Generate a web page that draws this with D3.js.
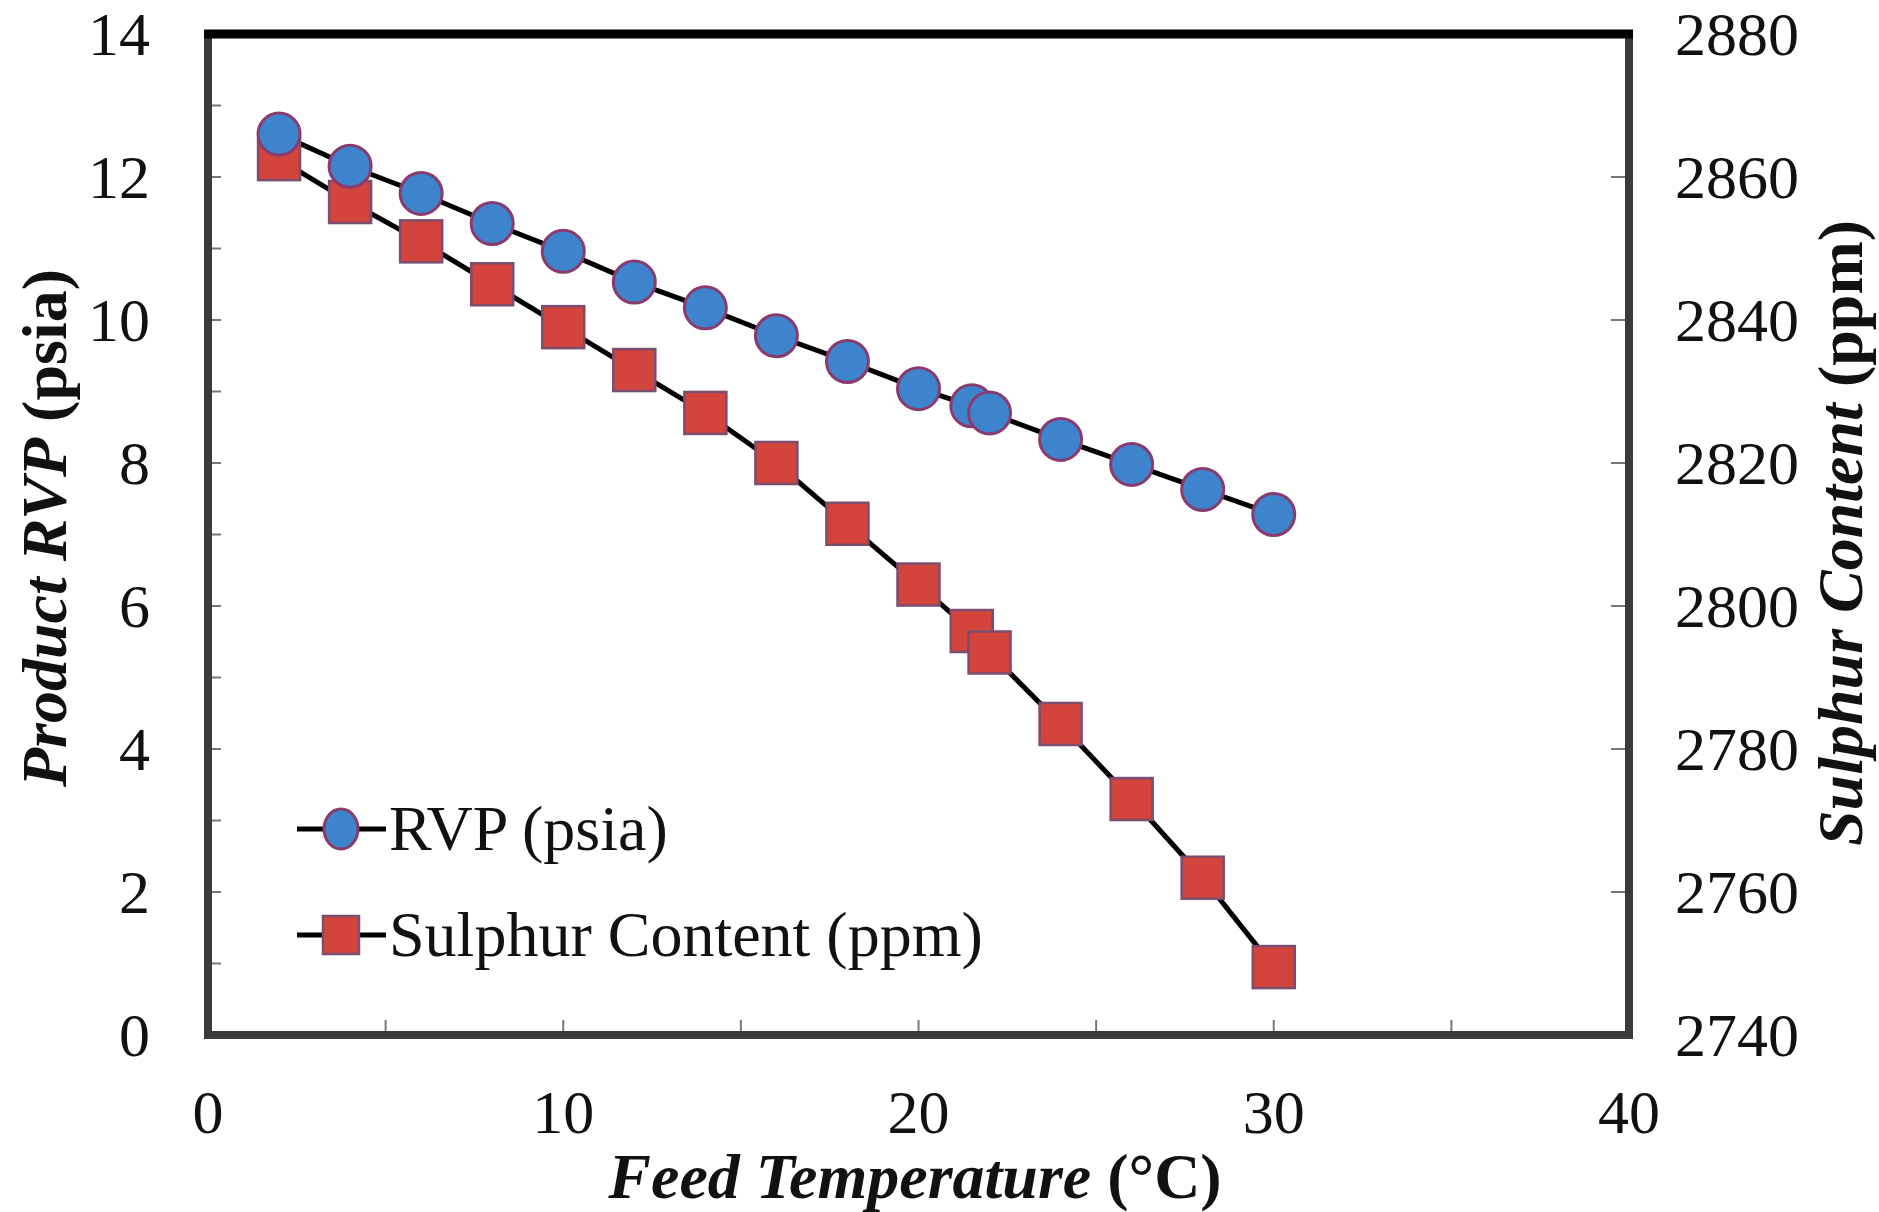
<!DOCTYPE html>
<html>
<head>
<meta charset="utf-8">
<script src="https://cdn.jsdelivr.net/npm/d3@7"></script>
<style>
  html, body { margin: 0; padding: 0; background: #fff; }
  svg { display: block; }
  text { font-family: "Liberation Serif", "Times New Roman", serif; fill: #111; }
</style>
</head>
<body>
<svg id="chart" width="1879" height="1212"></svg>
<script>
// ---- data ----
const temperatures = [2, 4, 6, 8, 10, 12, 14, 16, 18, 20, 21.5, 22, 24, 26, 28, 30];
const rvpValues = [12.6, 12.15, 11.77, 11.35, 10.96, 10.53, 10.17, 9.78, 9.42, 9.04, 8.8, 8.7, 8.33, 7.98, 7.63, 7.28];
const sulphurValues = [2862.5, 2856.5, 2851, 2845, 2839, 2833, 2827, 2820, 2811.5, 2803, 2796.5, 2793.5, 2783.5, 2773, 2762, 2749.5];
const xTicks = [0, 10, 20, 30, 40];
const leftTicks = [0, 2, 4, 6, 8, 10, 12, 14];
const rightTicks = [2740, 2760, 2780, 2800, 2820, 2840, 2860, 2880];
const seriesNames = ["RVP (psia)", "Sulphur Content (ppm)"];

// ---- layout ----
const svg = d3.select("#chart");
const L = 208, R = 1629, T = 34, B = 1035;

const x = d3.scaleLinear().domain([0, 40]).range([L, R]);
const yL = d3.scaleLinear().domain([0, 14]).range([B, T]);
const yR = d3.scaleLinear().domain([2740, 2880]).range([B, T]);

const tickColor = "#777";

// inner ticks
const gT = svg.append("g");
gT.selectAll("line.lt").data(d3.range(0, 15, 1)).enter().append("line")
  .attr("x1", L).attr("x2", L + 13).attr("y1", d => yL(d)).attr("y2", d => yL(d))
  .attr("stroke", tickColor).attr("stroke-width", 2);
gT.selectAll("line.rt").data(rightTicks).enter().append("line")
  .attr("x1", R - 18).attr("x2", R).attr("y1", d => yR(d)).attr("y2", d => yR(d))
  .attr("stroke", tickColor).attr("stroke-width", 2);
gT.selectAll("line.xt").data(d3.range(0, 41, 5)).enter().append("line")
  .attr("x1", d => x(d)).attr("x2", d => x(d)).attr("y1", B).attr("y2", B - 15)
  .attr("stroke", tickColor).attr("stroke-width", 2);

// tick labels
svg.append("g").selectAll("text").data(leftTicks).enter().append("text")
  .attr("x", 150).attr("y", d => yL(d) + 21)
  .attr("text-anchor", "end").attr("font-size", 62).text(d => d);
svg.append("g").selectAll("text").data(rightTicks).enter().append("text")
  .attr("x", 1675).attr("y", d => yR(d) + 21)
  .attr("text-anchor", "start").attr("font-size", 62).text(d => d);
svg.append("g").selectAll("text").data(xTicks).enter().append("text")
  .attr("x", d => x(d)).attr("y", 1133)
  .attr("text-anchor", "middle").attr("font-size", 62).text(d => d);

// frame
svg.append("rect").attr("x", L).attr("y", T).attr("width", R - L).attr("height", B - T)
  .attr("fill", "none").attr("stroke", "#3a3a3a").attr("stroke-width", 8);
svg.append("line").attr("x1", L - 4).attr("x2", R + 4).attr("y1", T).attr("y2", T)
  .attr("stroke", "#000").attr("stroke-width", 9);

// lines
const rvpData = temperatures.map((t, i) => [t, rvpValues[i]]);
const sulData = temperatures.map((t, i) => [t, sulphurValues[i]]);

svg.append("path").datum(rvpData)
  .attr("d", d3.line().x(d => x(d[0])).y(d => yL(d[1])))
  .attr("fill", "none").attr("stroke", "#000").attr("stroke-width", 5);
svg.append("path").datum(sulData)
  .attr("d", d3.line().x(d => x(d[0])).y(d => yR(d[1])))
  .attr("fill", "none").attr("stroke", "#000").attr("stroke-width", 5);

// markers
const circFill = "#3d84cc", circStroke = "#8a3b6e";
const sqFill = "#d2443c", sqStroke = "#7b4d6e";
const S = 42;
svg.append("g").selectAll("rect").data(sulData).enter().append("rect")
  .attr("x", d => x(d[0]) - S / 2).attr("y", d => yR(d[1]) - S / 2)
  .attr("width", S).attr("height", S)
  .attr("fill", sqFill).attr("stroke", sqStroke).attr("stroke-width", 2.5);
svg.append("g").selectAll("circle").data(rvpData).enter().append("circle")
  .attr("cx", d => x(d[0])).attr("cy", d => yL(d[1])).attr("r", 21)
  .attr("fill", circFill).attr("stroke", circStroke).attr("stroke-width", 3);

// legend
const lg = svg.append("g");
[829, 935].forEach((ly, i) => {
  lg.append("line").attr("x1", 297).attr("x2", 386).attr("y1", ly).attr("y2", ly)
    .attr("stroke", "#000").attr("stroke-width", 5);
  if (i === 0) {
    lg.append("ellipse").attr("cx", 341).attr("cy", ly).attr("rx", 17).attr("ry", 20)
      .attr("fill", circFill).attr("stroke", circStroke).attr("stroke-width", 3);
  } else {
    lg.append("rect").attr("x", 341 - 18).attr("y", ly - 19).attr("width", 36).attr("height", 38)
      .attr("fill", sqFill).attr("stroke", sqStroke).attr("stroke-width", 2.5);
  }
  lg.append("text").attr("x", 389).attr("y", ly + 21).attr("font-size", 64).text(seriesNames[i]);
});

// axis titles
const xt = svg.append("text").attr("x", 915).attr("y", 1198).attr("text-anchor", "middle")
  .attr("font-size", 64).attr("font-weight", "bold");
xt.append("tspan").attr("font-style", "italic").text("Feed Temperature");
xt.append("tspan").text(" (°C)");

const ylt = svg.append("text").attr("transform", "translate(66,528) rotate(-90)")
  .attr("text-anchor", "middle").attr("font-size", 64).attr("font-weight", "bold");
ylt.append("tspan").attr("font-style", "italic").text("Product RVP");
ylt.append("tspan").text(" (psia)");

const yrt = svg.append("text").attr("transform", "translate(1862,533) rotate(-90)")
  .attr("text-anchor", "middle").attr("font-size", 64).attr("font-weight", "bold");
yrt.append("tspan").attr("font-style", "italic").text("Sulphur Content");
yrt.append("tspan").text(" (ppm)");
</script>
</body>
</html>
